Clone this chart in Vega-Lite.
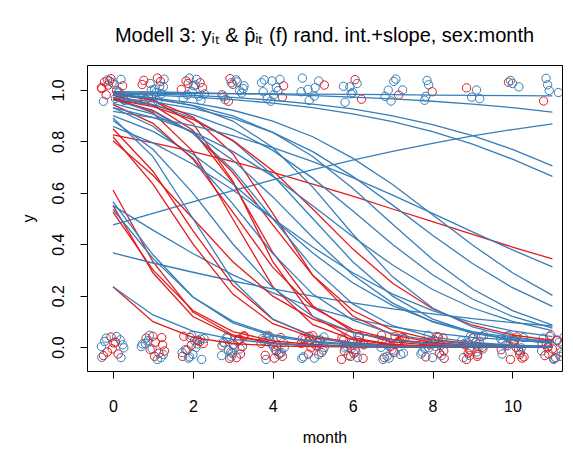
{
"$schema": "https://vega.github.io/schema/vega-lite/v6.json",
"width": 475, "height": 306,
"autosize": {"type": "none"},
"padding": {"left": 87, "top": 65, "right": 11, "bottom": 81},
"background": "white",
"config": {"view": {"stroke": "black", "strokeWidth": 1}, "font": "Liberation Sans"},
"title": {"text": "Modell 3: yᵢₜ & p̂ᵢₜ (f) rand. int.+slope, sex:month", "fontSize": 20, "fontWeight": "normal", "font": "Liberation Sans", "color": "black", "offset": 19, "anchor": "middle"},
"datasets": {
"pts": [
{"m":-0.21,"y":1.031,"s":"f"},{"m":0.13,"y":0.988,"s":"m"},{"m":-0.05,"y":1.044,"s":"f"},{"m":0.27,"y":0.962,"s":"m"},{"m":-0.28,"y":1.005,"s":"f"},{"m":0.02,"y":1.022,"s":"m"},{"m":0.18,"y":0.973,"s":"f"},{"m":-0.14,"y":1.039,"s":"m"},{"m":0.09,"y":0.997,"s":"f"},{"m":-0.24,"y":0.956,"s":"m"},{"m":0.24,"y":1.016,"s":"f"},{"m":-0.02,"y":1.028,"s":"m"},{"m":-0.17,"y":0.981,"s":"f"},{"m":0.2,"y":1.041,"s":"m"},{"m":0.06,"y":0.967,"s":"m"},{"m":-0.29,"y":1.009,"s":"f"},{"m":0.15,"y":0.993,"s":"m"},{"m":-0.09,"y":1.035,"s":"f"},{"m":0.29,"y":0.959,"s":"m"},{"m":-0.12,"y":1.019,"s":"f"},
{"m":1.04,"y":1.002,"s":"m"},{"m":0.74,"y":0.976,"s":"m"},{"m":1.11,"y":1.046,"s":"f"},{"m":1.22,"y":0.985,"s":"m"},{"m":0.93,"y":1.025,"s":"m"},{"m":0.81,"y":0.964,"s":"f"},{"m":1.26,"y":1.012,"s":"m"},{"m":1.0,"y":0.952,"s":"m"},{"m":0.77,"y":1.037,"s":"f"},{"m":1.08,"y":0.99,"s":"m"},{"m":1.17,"y":1.014,"s":"m"},{"m":0.89,"y":0.971,"s":"f"},{"m":1.28,"y":1.042,"s":"m"},{"m":0.96,"y":0.999,"s":"m"},{"m":0.73,"y":1.021,"s":"f"},{"m":1.12,"y":0.957,"s":"m"},{"m":1.19,"y":1.033,"s":"f"},
{"m":2.02,"y":1.016,"s":"m"},{"m":2.18,"y":1.028,"s":"f"},{"m":1.86,"y":0.981,"s":"m"},{"m":2.09,"y":1.041,"s":"m"},{"m":1.76,"y":0.967,"s":"m"},{"m":2.24,"y":1.009,"s":"f"},{"m":1.98,"y":0.993,"s":"m"},{"m":1.83,"y":1.035,"s":"f"},{"m":2.2,"y":0.959,"s":"m"},{"m":2.06,"y":1.019,"s":"m"},{"m":1.71,"y":1.002,"s":"f"},{"m":2.15,"y":0.976,"s":"m"},{"m":1.91,"y":1.046,"s":"m"},{"m":2.29,"y":0.985,"s":"m"},{"m":1.88,"y":1.025,"s":"f"},
{"m":3.11,"y":1.031,"s":"m"},{"m":3.22,"y":0.988,"s":"m"},{"m":2.93,"y":1.044,"s":"f"},{"m":2.81,"y":0.962,"s":"m"},{"m":3.26,"y":1.005,"s":"m"},{"m":3.0,"y":1.022,"s":"f"},{"m":2.77,"y":0.973,"s":"m"},{"m":3.08,"y":1.039,"s":"m"},{"m":3.17,"y":0.997,"s":"m"},{"m":2.89,"y":0.956,"s":"f"},{"m":3.28,"y":1.016,"s":"m"},{"m":2.96,"y":1.028,"s":"m"},{"m":2.73,"y":0.981,"s":"f"},
{"m":3.79,"y":1.039,"s":"m"},{"m":4.13,"y":0.997,"s":"m"},{"m":3.95,"y":0.956,"s":"m"},{"m":4.27,"y":1.016,"s":"f"},{"m":3.72,"y":1.028,"s":"m"},{"m":4.02,"y":0.981,"s":"m"},{"m":4.18,"y":1.041,"s":"m"},{"m":3.86,"y":0.967,"s":"m"},{"m":4.09,"y":1.009,"s":"m"},{"m":3.76,"y":0.993,"s":"m"},{"m":4.24,"y":0.972,"s":"f"},{"m":3.98,"y":1.035,"s":"m"},
{"m":5.06,"y":1.009,"s":"m"},{"m":4.71,"y":0.993,"s":"m"},{"m":5.15,"y":1.035,"s":"m"},{"m":4.91,"y":0.959,"s":"m"},{"m":5.29,"y":1.019,"s":"f"},{"m":4.88,"y":1.002,"s":"m"},{"m":5.04,"y":0.976,"s":"m"},{"m":4.74,"y":1.046,"s":"m"},
{"m":5.96,"y":0.985,"s":"m"},{"m":6.11,"y":1.025,"s":"m"},{"m":6.22,"y":0.964,"s":"f"},{"m":5.93,"y":1.012,"s":"m"},{"m":5.81,"y":0.952,"s":"m"},{"m":6.06,"y":1.04,"s":"f"},{"m":6.0,"y":0.99,"s":"m"},{"m":5.77,"y":1.014,"s":"m"},
{"m":7.08,"y":1.042,"s":"m"},{"m":6.89,"y":0.999,"s":"m"},{"m":7.25,"y":1.0,"s":"m"},{"m":7.15,"y":0.98,"s":"f"},{"m":6.96,"y":0.957,"s":"m"},{"m":7.03,"y":1.033,"s":"m"},{"m":6.81,"y":0.975,"s":"m"},
{"m":7.86,"y":1.037,"s":"m"},{"m":7.9,"y":1.02,"s":"m"},{"m":7.99,"y":0.993,"s":"f"},{"m":7.83,"y":0.975,"s":"m"},{"m":7.8,"y":0.96,"s":"m"},
{"m":8.85,"y":1.008,"s":"f"},{"m":9.1,"y":1.0,"s":"m"},{"m":8.98,"y":0.972,"s":"m"},{"m":9.18,"y":0.966,"s":"m"},
{"m":9.9,"y":1.03,"s":"f"},{"m":9.95,"y":1.037,"s":"m"},{"m":10.0,"y":1.025,"s":"m"},{"m":10.16,"y":1.012,"s":"m"},
{"m":10.84,"y":1.045,"s":"m"},{"m":10.88,"y":1.02,"s":"m"},{"m":10.78,"y":0.957,"s":"f"},{"m":10.92,"y":0.998,"s":"m"},{"m":11.15,"y":0.99,"s":"m"},
{"m":-0.21,"y":0.022,"s":"m"},{"m":0.13,"y":-0.027,"s":"f"},{"m":-0.05,"y":0.039,"s":"f"},{"m":0.27,"y":-0.003,"s":"m"},{"m":-0.28,"y":-0.04,"s":"m"},{"m":0.02,"y":0.016,"s":"f"},{"m":0.18,"y":0.028,"s":"m"},{"m":-0.14,"y":-0.019,"s":"f"},{"m":0.09,"y":0.041,"s":"m"},{"m":-0.24,"y":-0.033,"s":"f"},{"m":0.24,"y":0.009,"s":"m"},{"m":-0.02,"y":-0.007,"s":"f"},{"m":-0.17,"y":0.035,"s":"m"},{"m":0.2,"y":-0.041,"s":"m"},{"m":0.06,"y":0.019,"s":"f"},{"m":-0.29,"y":0.002,"s":"m"},
{"m":1.24,"y":0.009,"s":"f"},{"m":0.98,"y":-0.007,"s":"m"},{"m":0.83,"y":0.035,"s":"f"},{"m":1.2,"y":-0.041,"s":"m"},{"m":1.06,"y":0.019,"s":"f"},{"m":0.71,"y":0.002,"s":"m"},{"m":1.15,"y":-0.024,"s":"f"},{"m":0.91,"y":0.046,"s":"m"},{"m":1.29,"y":-0.015,"s":"f"},{"m":0.88,"y":0.025,"s":"m"},{"m":1.04,"y":-0.036,"s":"f"},{"m":0.74,"y":0.012,"s":"m"},{"m":1.11,"y":-0.048,"s":"m"},{"m":1.22,"y":0.037,"s":"f"},{"m":0.93,"y":-0.01,"s":"f"},{"m":0.81,"y":0.014,"s":"m"},{"m":1.26,"y":-0.029,"s":"m"},{"m":1.0,"y":0.042,"s":"f"},
{"m":2.04,"y":0.025,"s":"m"},{"m":1.74,"y":-0.036,"s":"f"},{"m":2.11,"y":0.012,"s":"m"},{"m":2.22,"y":-0.048,"s":"m"},{"m":1.93,"y":0.037,"s":"f"},{"m":1.81,"y":-0.01,"s":"m"},{"m":2.26,"y":0.014,"s":"f"},{"m":2.0,"y":-0.029,"s":"m"},{"m":1.77,"y":0.042,"s":"f"},{"m":2.08,"y":-0.001,"s":"m"},{"m":2.17,"y":0.021,"s":"f"},{"m":1.89,"y":-0.043,"s":"m"},{"m":2.28,"y":0.033,"s":"m"},{"m":1.96,"y":0.007,"s":"f"},{"m":1.73,"y":-0.021,"s":"m"},{"m":2.12,"y":0.026,"s":"f"},{"m":2.19,"y":0.031,"s":"m"},{"m":1.85,"y":-0.012,"s":"f"},{"m":1.97,"y":0.044,"s":"m"},{"m":1.92,"y":-0.038,"s":"m"},
{"m":3.17,"y":0.031,"s":"f"},{"m":2.89,"y":-0.012,"s":"m"},{"m":3.28,"y":0.044,"s":"f"},{"m":2.96,"y":-0.038,"s":"m"},{"m":2.73,"y":0.005,"s":"f"},{"m":3.12,"y":0.022,"s":"m"},{"m":3.19,"y":-0.027,"s":"f"},{"m":2.85,"y":0.039,"s":"m"},{"m":3.03,"y":-0.003,"s":"m"},{"m":2.92,"y":-0.044,"s":"f"},{"m":2.79,"y":0.016,"s":"m"},{"m":3.13,"y":0.028,"s":"f"},{"m":2.95,"y":-0.019,"s":"m"},{"m":3.27,"y":0.041,"s":"f"},{"m":2.72,"y":-0.033,"s":"m"},{"m":3.02,"y":0.009,"s":"f"},{"m":3.18,"y":-0.007,"s":"m"},{"m":2.86,"y":0.035,"s":"m"},{"m":3.09,"y":-0.041,"s":"f"},{"m":2.76,"y":0.019,"s":"m"},{"m":3.24,"y":0.002,"s":"f"},{"m":2.98,"y":-0.024,"s":"m"},
{"m":4.02,"y":0.002,"s":"m"},{"m":4.18,"y":-0.024,"s":"f"},{"m":3.86,"y":0.046,"s":"m"},{"m":4.09,"y":-0.015,"s":"f"},{"m":3.76,"y":0.025,"s":"m"},{"m":4.24,"y":-0.036,"s":"f"},{"m":3.98,"y":0.012,"s":"m"},{"m":3.83,"y":-0.048,"s":"m"},{"m":4.2,"y":0.037,"s":"f"},{"m":4.06,"y":-0.01,"s":"m"},{"m":3.71,"y":0.014,"s":"f"},{"m":4.15,"y":-0.029,"s":"m"},{"m":3.91,"y":0.042,"s":"f"},{"m":4.29,"y":-0.001,"s":"m"},{"m":3.88,"y":0.021,"s":"m"},{"m":4.04,"y":-0.043,"s":"f"},{"m":3.74,"y":0.033,"s":"m"},{"m":4.11,"y":0.007,"s":"f"},{"m":4.22,"y":-0.021,"s":"m"},{"m":3.93,"y":0.026,"s":"m"},{"m":3.81,"y":-0.032,"s":"f"},{"m":4.26,"y":0.018,"s":"m"},
{"m":4.71,"y":0.014,"s":"f"},{"m":5.15,"y":-0.029,"s":"m"},{"m":4.91,"y":0.042,"s":"f"},{"m":5.29,"y":-0.001,"s":"m"},{"m":4.88,"y":0.021,"s":"f"},{"m":5.04,"y":-0.043,"s":"m"},{"m":4.74,"y":0.033,"s":"f"},{"m":5.11,"y":0.007,"s":"m"},{"m":5.22,"y":-0.021,"s":"f"},{"m":4.93,"y":0.026,"s":"m"},{"m":4.81,"y":0.031,"s":"f"},{"m":5.26,"y":-0.012,"s":"m"},{"m":5.0,"y":0.044,"s":"f"},{"m":4.77,"y":-0.038,"s":"m"},{"m":5.08,"y":0.005,"s":"f"},{"m":5.17,"y":0.022,"s":"m"},{"m":4.89,"y":-0.027,"s":"f"},{"m":5.28,"y":0.039,"s":"m"},{"m":4.96,"y":-0.003,"s":"f"},{"m":4.73,"y":-0.044,"s":"m"},{"m":5.12,"y":0.016,"s":"f"},{"m":5.19,"y":0.028,"s":"m"},
{"m":5.81,"y":-0.003,"s":"m"},{"m":6.26,"y":-0.044,"s":"f"},{"m":6.0,"y":0.016,"s":"m"},{"m":5.77,"y":0.028,"s":"f"},{"m":6.08,"y":-0.019,"s":"m"},{"m":6.17,"y":0.041,"s":"f"},{"m":5.89,"y":-0.033,"s":"m"},{"m":6.28,"y":0.009,"s":"f"},{"m":5.96,"y":-0.007,"s":"m"},{"m":5.73,"y":0.035,"s":"f"},{"m":6.12,"y":-0.041,"s":"m"},{"m":6.19,"y":0.019,"s":"f"},{"m":5.85,"y":0.002,"s":"m"},{"m":6.03,"y":-0.024,"s":"f"},{"m":5.92,"y":0.046,"s":"m"},{"m":5.79,"y":-0.015,"s":"f"},{"m":6.13,"y":0.025,"s":"m"},{"m":5.95,"y":-0.036,"s":"f"},{"m":6.27,"y":0.012,"s":"m"},{"m":5.72,"y":-0.048,"s":"f"},{"m":6.15,"y":0.037,"s":"m"},{"m":6.06,"y":-0.01,"s":"f"},
{"m":6.79,"y":-0.041,"s":"f"},{"m":7.13,"y":0.019,"s":"m"},{"m":6.95,"y":0.002,"s":"f"},{"m":7.27,"y":-0.024,"s":"m"},{"m":6.72,"y":0.046,"s":"f"},{"m":7.02,"y":-0.015,"s":"m"},{"m":7.18,"y":0.025,"s":"f"},{"m":6.86,"y":-0.036,"s":"m"},{"m":7.09,"y":0.012,"s":"f"},{"m":6.76,"y":-0.048,"s":"m"},{"m":7.24,"y":0.037,"s":"f"},{"m":6.98,"y":-0.01,"s":"m"},{"m":6.83,"y":0.014,"s":"f"},{"m":7.2,"y":-0.029,"s":"m"},{"m":7.06,"y":0.042,"s":"f"},{"m":6.71,"y":-0.001,"s":"m"},{"m":7.15,"y":0.021,"s":"f"},{"m":6.91,"y":-0.043,"s":"m"},{"m":7.29,"y":0.033,"s":"f"},{"m":6.88,"y":0.007,"s":"m"},{"m":7.04,"y":-0.021,"s":"f"},{"m":6.74,"y":0.026,"s":"m"},
{"m":7.83,"y":-0.038,"s":"f"},{"m":8.2,"y":0.005,"s":"m"},{"m":8.06,"y":0.022,"s":"f"},{"m":7.71,"y":-0.027,"s":"m"},{"m":8.15,"y":0.039,"s":"f"},{"m":7.91,"y":-0.003,"s":"m"},{"m":8.29,"y":-0.044,"s":"f"},{"m":7.88,"y":0.016,"s":"m"},{"m":8.04,"y":0.028,"s":"f"},{"m":7.74,"y":-0.019,"s":"m"},{"m":8.11,"y":0.041,"s":"f"},{"m":8.22,"y":-0.033,"s":"m"},{"m":7.93,"y":0.009,"s":"f"},{"m":7.81,"y":-0.007,"s":"m"},{"m":8.26,"y":0.035,"s":"f"},{"m":8.0,"y":-0.041,"s":"m"},{"m":7.77,"y":0.019,"s":"f"},{"m":8.08,"y":0.002,"s":"m"},{"m":8.17,"y":-0.024,"s":"f"},{"m":7.89,"y":0.046,"s":"m"},{"m":8.28,"y":-0.015,"s":"f"},{"m":7.96,"y":0.025,"s":"m"},
{"m":9.11,"y":-0.019,"s":"m"},{"m":9.22,"y":0.041,"s":"f"},{"m":8.93,"y":-0.033,"s":"m"},{"m":8.81,"y":0.009,"s":"f"},{"m":9.26,"y":-0.007,"s":"m"},{"m":9.0,"y":0.035,"s":"f"},{"m":8.77,"y":-0.041,"s":"m"},{"m":9.08,"y":0.019,"s":"f"},{"m":9.17,"y":0.002,"s":"m"},{"m":8.89,"y":-0.024,"s":"f"},{"m":9.28,"y":0.046,"s":"m"},{"m":8.96,"y":-0.015,"s":"f"},{"m":8.73,"y":0.025,"s":"m"},{"m":9.12,"y":-0.036,"s":"f"},{"m":9.19,"y":0.012,"s":"m"},{"m":8.85,"y":-0.048,"s":"f"},{"m":9.03,"y":0.037,"s":"m"},{"m":8.92,"y":-0.01,"s":"f"},{"m":8.79,"y":0.014,"s":"m"},{"m":9.13,"y":-0.029,"s":"f"},{"m":8.95,"y":0.042,"s":"m"},{"m":9.24,"y":-0.001,"s":"f"},
{"m":9.95,"y":-0.048,"s":"f"},{"m":10.27,"y":0.037,"s":"m"},{"m":9.72,"y":-0.01,"s":"f"},{"m":10.02,"y":0.014,"s":"m"},{"m":10.18,"y":-0.029,"s":"f"},{"m":9.86,"y":0.042,"s":"m"},{"m":10.09,"y":-0.001,"s":"f"},{"m":9.76,"y":0.021,"s":"m"},{"m":10.24,"y":-0.043,"s":"f"},{"m":9.98,"y":0.033,"s":"m"},{"m":9.83,"y":0.007,"s":"f"},{"m":10.2,"y":-0.021,"s":"m"},{"m":10.06,"y":0.026,"s":"f"},{"m":9.71,"y":0.031,"s":"m"},{"m":10.15,"y":-0.012,"s":"f"},{"m":9.91,"y":0.044,"s":"m"},{"m":10.29,"y":-0.038,"s":"f"},{"m":9.88,"y":0.005,"s":"m"},{"m":10.04,"y":0.022,"s":"f"},{"m":9.74,"y":-0.027,"s":"m"},{"m":10.11,"y":0.039,"s":"f"},{"m":10.22,"y":-0.003,"s":"m"},
{"m":10.91,"y":-0.027,"s":"f"},{"m":11.29,"y":0.039,"s":"m"},{"m":10.88,"y":-0.003,"s":"f"},{"m":11.04,"y":-0.044,"s":"m"},{"m":10.74,"y":0.016,"s":"f"},{"m":11.11,"y":0.028,"s":"m"},{"m":11.22,"y":-0.019,"s":"f"},{"m":10.93,"y":0.041,"s":"m"},{"m":10.81,"y":-0.033,"s":"f"},{"m":11.26,"y":0.009,"s":"m"},{"m":11.0,"y":-0.007,"s":"f"},{"m":10.77,"y":0.035,"s":"m"},{"m":11.08,"y":-0.041,"s":"f"},{"m":11.17,"y":0.019,"s":"m"},{"m":10.89,"y":0.002,"s":"f"},{"m":11.28,"y":-0.024,"s":"m"},{"m":10.96,"y":0.046,"s":"f"},{"m":10.73,"y":-0.015,"s":"m"},{"m":11.12,"y":0.025,"s":"f"},{"m":11.19,"y":-0.036,"s":"m"},{"m":10.85,"y":0.012,"s":"f"},{"m":11.03,"y":-0.048,"s":"m"}
],
"crv": [
{"id":"B1","s":"m","t":0,"p":0.993},{"id":"B1","s":"m","t":1,"p":0.992},{"id":"B1","s":"m","t":2,"p":0.989},{"id":"B1","s":"m","t":3,"p":0.986},{"id":"B1","s":"m","t":4,"p":0.983},{"id":"B1","s":"m","t":5,"p":0.978},{"id":"B1","s":"m","t":6,"p":0.972},{"id":"B1","s":"m","t":7,"p":0.965},{"id":"B1","s":"m","t":8,"p":0.956},{"id":"B1","s":"m","t":9,"p":0.945},{"id":"B1","s":"m","t":10,"p":0.931},{"id":"B1","s":"m","t":11,"p":0.914},
{"id":"B2","s":"m","t":0,"p":0.988},{"id":"B2","s":"m","t":1,"p":0.987},{"id":"B2","s":"m","t":2,"p":0.986},{"id":"B2","s":"m","t":3,"p":0.986},{"id":"B2","s":"m","t":4,"p":0.985},{"id":"B2","s":"m","t":5,"p":0.984},{"id":"B2","s":"m","t":6,"p":0.983},{"id":"B2","s":"m","t":7,"p":0.982},{"id":"B2","s":"m","t":8,"p":0.98},{"id":"B2","s":"m","t":9,"p":0.979},{"id":"B2","s":"m","t":10,"p":0.978},{"id":"B2","s":"m","t":11,"p":0.977},
{"id":"R1","s":"f","t":0,"p":0.825},{"id":"R1","s":"f","t":1,"p":0.794},{"id":"R1","s":"f","t":2,"p":0.76},{"id":"R1","s":"f","t":3,"p":0.721},{"id":"R1","s":"f","t":4,"p":0.679},{"id":"R1","s":"f","t":5,"p":0.634},{"id":"R1","s":"f","t":6,"p":0.587},{"id":"R1","s":"f","t":7,"p":0.537},{"id":"R1","s":"f","t":8,"p":0.488},{"id":"R1","s":"f","t":9,"p":0.438},{"id":"R1","s":"f","t":10,"p":0.389},{"id":"R1","s":"f","t":11,"p":0.343},
{"id":"B3","s":"m","t":0,"p":0.989},{"id":"B3","s":"m","t":1,"p":0.985},{"id":"B3","s":"m","t":2,"p":0.979},{"id":"B3","s":"m","t":3,"p":0.971},{"id":"B3","s":"m","t":4,"p":0.96},{"id":"B3","s":"m","t":5,"p":0.945},{"id":"B3","s":"m","t":6,"p":0.926},{"id":"B3","s":"m","t":7,"p":0.899},{"id":"B3","s":"m","t":8,"p":0.865},{"id":"B3","s":"m","t":9,"p":0.822},{"id":"B3","s":"m","t":10,"p":0.769},{"id":"B3","s":"m","t":11,"p":0.705},
{"id":"R2","s":"f","t":0,"p":0.611},{"id":"R2","s":"f","t":1,"p":0.332},{"id":"R2","s":"f","t":2,"p":0.136},{"id":"R2","s":"f","t":3,"p":0.047},{"id":"R2","s":"f","t":4,"p":0.016},{"id":"R2","s":"f","t":5,"p":0.005},{"id":"R2","s":"f","t":6,"p":0.002},{"id":"R2","s":"f","t":7,"p":0.0005},{"id":"R2","s":"f","t":8,"p":0.0002},{"id":"R2","s":"f","t":9,"p":0.0001},{"id":"R2","s":"f","t":10,"p":0.0},{"id":"R2","s":"f","t":11,"p":0.0},
{"id":"B4","s":"m","t":0,"p":0.985},{"id":"B4","s":"m","t":1,"p":0.98},{"id":"B4","s":"m","t":2,"p":0.972},{"id":"B4","s":"m","t":3,"p":0.962},{"id":"B4","s":"m","t":4,"p":0.949},{"id":"B4","s":"m","t":5,"p":0.931},{"id":"B4","s":"m","t":6,"p":0.907},{"id":"B4","s":"m","t":7,"p":0.877},{"id":"B4","s":"m","t":8,"p":0.838},{"id":"B4","s":"m","t":9,"p":0.789},{"id":"B4","s":"m","t":10,"p":0.731},{"id":"B4","s":"m","t":11,"p":0.664},
{"id":"R3","s":"f","t":0,"p":0.55},{"id":"R3","s":"f","t":1,"p":0.289},{"id":"R3","s":"f","t":2,"p":0.119},{"id":"R3","s":"f","t":3,"p":0.043},{"id":"R3","s":"f","t":4,"p":0.015},{"id":"R3","s":"f","t":5,"p":0.005},{"id":"R3","s":"f","t":6,"p":0.002},{"id":"R3","s":"f","t":7,"p":0.0005},{"id":"R3","s":"f","t":8,"p":0.0002},{"id":"R3","s":"f","t":9,"p":0.0001},{"id":"R3","s":"f","t":10,"p":0.0},{"id":"R3","s":"f","t":11,"p":0.0},
{"id":"B5","s":"m","t":0,"p":0.475},{"id":"B5","s":"m","t":1,"p":0.52},{"id":"B5","s":"m","t":2,"p":0.565},{"id":"B5","s":"m","t":3,"p":0.608},{"id":"B5","s":"m","t":4,"p":0.65},{"id":"B5","s":"m","t":5,"p":0.69},{"id":"B5","s":"m","t":6,"p":0.727},{"id":"B5","s":"m","t":7,"p":0.761},{"id":"B5","s":"m","t":8,"p":0.792},{"id":"B5","s":"m","t":9,"p":0.821},{"id":"B5","s":"m","t":10,"p":0.846},{"id":"B5","s":"m","t":11,"p":0.868},
{"id":"R4","s":"f","t":0,"p":0.525},{"id":"R4","s":"f","t":1,"p":0.3},{"id":"R4","s":"f","t":2,"p":0.142},{"id":"R4","s":"f","t":3,"p":0.06},{"id":"R4","s":"f","t":4,"p":0.024},{"id":"R4","s":"f","t":5,"p":0.01},{"id":"R4","s":"f","t":6,"p":0.004},{"id":"R4","s":"f","t":7,"p":0.0014},{"id":"R4","s":"f","t":8,"p":0.0005},{"id":"R4","s":"f","t":9,"p":0.0002},{"id":"R4","s":"f","t":10,"p":0.0001},{"id":"R4","s":"f","t":11,"p":0.0},
{"id":"B6","s":"m","t":0,"p":0.98},{"id":"B6","s":"m","t":1,"p":0.968},{"id":"B6","s":"m","t":2,"p":0.95},{"id":"B6","s":"m","t":3,"p":0.921},{"id":"B6","s":"m","t":4,"p":0.879},{"id":"B6","s":"m","t":5,"p":0.818},{"id":"B6","s":"m","t":6,"p":0.735},{"id":"B6","s":"m","t":7,"p":0.632},{"id":"B6","s":"m","t":8,"p":0.515},{"id":"B6","s":"m","t":9,"p":0.397},{"id":"B6","s":"m","t":10,"p":0.289},{"id":"B6","s":"m","t":11,"p":0.201},
{"id":"R5","s":"f","t":0,"p":0.235},{"id":"R5","s":"f","t":1,"p":0.099},{"id":"R5","s":"f","t":2,"p":0.038},{"id":"R5","s":"f","t":3,"p":0.014},{"id":"R5","s":"f","t":4,"p":0.005},{"id":"R5","s":"f","t":5,"p":0.002},{"id":"R5","s":"f","t":6,"p":0.0006},{"id":"R5","s":"f","t":7,"p":0.0002},{"id":"R5","s":"f","t":8,"p":0.0001},{"id":"R5","s":"f","t":9,"p":0.0},{"id":"R5","s":"f","t":10,"p":0.0},{"id":"R5","s":"f","t":11,"p":0.0},
{"id":"B7","s":"m","t":0,"p":0.964},{"id":"B7","s":"m","t":1,"p":0.941},{"id":"B7","s":"m","t":2,"p":0.904},{"id":"B7","s":"m","t":3,"p":0.847},{"id":"B7","s":"m","t":4,"p":0.765},{"id":"B7","s":"m","t":5,"p":0.657},{"id":"B7","s":"m","t":6,"p":0.53},{"id":"B7","s":"m","t":7,"p":0.399},{"id":"B7","s":"m","t":8,"p":0.281},{"id":"B7","s":"m","t":9,"p":0.187},{"id":"B7","s":"m","t":10,"p":0.119},{"id":"B7","s":"m","t":11,"p":0.074},
{"id":"R6","s":"f","t":0,"p":0.98},{"id":"R6","s":"f","t":1,"p":0.942},{"id":"R6","s":"f","t":2,"p":0.843},{"id":"R6","s":"f","t":3,"p":0.639},{"id":"R6","s":"f","t":4,"p":0.368},{"id":"R6","s":"f","t":5,"p":0.161},{"id":"R6","s":"f","t":6,"p":0.06},{"id":"R6","s":"f","t":7,"p":0.02},{"id":"R6","s":"f","t":8,"p":0.007},{"id":"R6","s":"f","t":9,"p":0.002},{"id":"R6","s":"f","t":10,"p":0.0007},{"id":"R6","s":"f","t":11,"p":0.0002},
{"id":"B8","s":"m","t":0,"p":0.55},{"id":"B8","s":"m","t":1,"p":0.455},{"id":"B8","s":"m","t":2,"p":0.364},{"id":"B8","s":"m","t":3,"p":0.281},{"id":"B8","s":"m","t":4,"p":0.211},{"id":"B8","s":"m","t":5,"p":0.154},{"id":"B8","s":"m","t":6,"p":0.111},{"id":"B8","s":"m","t":7,"p":0.079},{"id":"B8","s":"m","t":8,"p":0.055},{"id":"B8","s":"m","t":9,"p":0.038},{"id":"B8","s":"m","t":10,"p":0.027},{"id":"B8","s":"m","t":11,"p":0.018},
{"id":"R7","s":"f","t":0,"p":0.971},{"id":"R7","s":"f","t":1,"p":0.911},{"id":"R7","s":"f","t":2,"p":0.761},{"id":"R7","s":"f","t":3,"p":0.498},{"id":"R7","s":"f","t":4,"p":0.235},{"id":"R7","s":"f","t":5,"p":0.087},{"id":"R7","s":"f","t":6,"p":0.029},{"id":"R7","s":"f","t":7,"p":0.009},{"id":"R7","s":"f","t":8,"p":0.003},{"id":"R7","s":"f","t":9,"p":0.001},{"id":"R7","s":"f","t":10,"p":0.0003},{"id":"R7","s":"f","t":11,"p":0.0001},
{"id":"B9","s":"m","t":0,"p":0.366},{"id":"B9","s":"m","t":1,"p":0.327},{"id":"B9","s":"m","t":2,"p":0.291},{"id":"B9","s":"m","t":3,"p":0.257},{"id":"B9","s":"m","t":4,"p":0.226},{"id":"B9","s":"m","t":5,"p":0.198},{"id":"B9","s":"m","t":6,"p":0.172},{"id":"B9","s":"m","t":7,"p":0.149},{"id":"B9","s":"m","t":8,"p":0.129},{"id":"B9","s":"m","t":9,"p":0.111},{"id":"B9","s":"m","t":10,"p":0.095},{"id":"B9","s":"m","t":11,"p":0.082},
{"id":"R8","s":"f","t":0,"p":0.964},{"id":"R8","s":"f","t":1,"p":0.921},{"id":"R8","s":"f","t":2,"p":0.832},{"id":"R8","s":"f","t":3,"p":0.679},{"id":"R8","s":"f","t":4,"p":0.475},{"id":"R8","s":"f","t":5,"p":0.279},{"id":"R8","s":"f","t":6,"p":0.142},{"id":"R8","s":"f","t":7,"p":0.066},{"id":"R8","s":"f","t":8,"p":0.029},{"id":"R8","s":"f","t":9,"p":0.013},{"id":"R8","s":"f","t":10,"p":0.006},{"id":"R8","s":"f","t":11,"p":0.002},
{"id":"B10","s":"m","t":0,"p":0.565},{"id":"B10","s":"m","t":1,"p":0.359},{"id":"B10","s":"m","t":2,"p":0.195},{"id":"B10","s":"m","t":3,"p":0.094},{"id":"B10","s":"m","t":4,"p":0.043},{"id":"B10","s":"m","t":5,"p":0.019},{"id":"B10","s":"m","t":6,"p":0.008},{"id":"B10","s":"m","t":7,"p":0.004},{"id":"B10","s":"m","t":8,"p":0.002},{"id":"B10","s":"m","t":9,"p":0.001},{"id":"B10","s":"m","t":10,"p":0.0003},{"id":"B10","s":"m","t":11,"p":0.0001},
{"id":"R9","s":"f","t":0,"p":0.849},{"id":"R9","s":"f","t":1,"p":0.684},{"id":"R9","s":"f","t":2,"p":0.453},{"id":"R9","s":"f","t":3,"p":0.241},{"id":"R9","s":"f","t":4,"p":0.108},{"id":"R9","s":"f","t":5,"p":0.044},{"id":"R9","s":"f","t":6,"p":0.017},{"id":"R9","s":"f","t":7,"p":0.007},{"id":"R9","s":"f","t":8,"p":0.003},{"id":"R9","s":"f","t":9,"p":0.001},{"id":"R9","s":"f","t":10,"p":0.0004},{"id":"R9","s":"f","t":11,"p":0.0001},
{"id":"B11","s":"m","t":0,"p":0.535},{"id":"B11","s":"m","t":1,"p":0.345},{"id":"B11","s":"m","t":2,"p":0.195},{"id":"B11","s":"m","t":3,"p":0.1},{"id":"B11","s":"m","t":4,"p":0.048},{"id":"B11","s":"m","t":5,"p":0.023},{"id":"B11","s":"m","t":6,"p":0.011},{"id":"B11","s":"m","t":7,"p":0.005},{"id":"B11","s":"m","t":8,"p":0.002},{"id":"B11","s":"m","t":9,"p":0.001},{"id":"B11","s":"m","t":10,"p":0.0005},{"id":"B11","s":"m","t":11,"p":0.0002},
{"id":"R10","s":"f","t":0,"p":0.818},{"id":"R10","s":"f","t":1,"p":0.634},{"id":"R10","s":"f","t":2,"p":0.401},{"id":"R10","s":"f","t":3,"p":0.206},{"id":"R10","s":"f","t":4,"p":0.091},{"id":"R10","s":"f","t":5,"p":0.037},{"id":"R10","s":"f","t":6,"p":0.015},{"id":"R10","s":"f","t":7,"p":0.006},{"id":"R10","s":"f","t":8,"p":0.002},{"id":"R10","s":"f","t":9,"p":0.0008},{"id":"R10","s":"f","t":10,"p":0.0003},{"id":"R10","s":"f","t":11,"p":0.0001},
{"id":"B12","s":"m","t":0,"p":0.235},{"id":"B12","s":"m","t":1,"p":0.125},{"id":"B12","s":"m","t":2,"p":0.062},{"id":"B12","s":"m","t":3,"p":0.03},{"id":"B12","s":"m","t":4,"p":0.014},{"id":"B12","s":"m","t":5,"p":0.007},{"id":"B12","s":"m","t":6,"p":0.003},{"id":"B12","s":"m","t":7,"p":0.001},{"id":"B12","s":"m","t":8,"p":0.0006},{"id":"B12","s":"m","t":9,"p":0.0003},{"id":"B12","s":"m","t":10,"p":0.0001},{"id":"B12","s":"m","t":11,"p":0.0001},
{"id":"R11","s":"f","t":0,"p":0.802},{"id":"R11","s":"f","t":1,"p":0.668},{"id":"R11","s":"f","t":2,"p":0.5},{"id":"R11","s":"f","t":3,"p":0.332},{"id":"R11","s":"f","t":4,"p":0.198},{"id":"R11","s":"f","t":5,"p":0.109},{"id":"R11","s":"f","t":6,"p":0.057},{"id":"R11","s":"f","t":7,"p":0.029},{"id":"R11","s":"f","t":8,"p":0.015},{"id":"R11","s":"f","t":9,"p":0.007},{"id":"R11","s":"f","t":10,"p":0.004},{"id":"R11","s":"f","t":11,"p":0.002},
{"id":"B13","s":"m","t":0,"p":0.971},{"id":"B13","s":"m","t":1,"p":0.943},{"id":"B13","s":"m","t":2,"p":0.891},{"id":"B13","s":"m","t":3,"p":0.802},{"id":"B13","s":"m","t":4,"p":0.668},{"id":"B13","s":"m","t":5,"p":0.5},{"id":"B13","s":"m","t":6,"p":0.332},{"id":"B13","s":"m","t":7,"p":0.198},{"id":"B13","s":"m","t":8,"p":0.109},{"id":"B13","s":"m","t":9,"p":0.057},{"id":"B13","s":"m","t":10,"p":0.029},{"id":"B13","s":"m","t":11,"p":0.015},
{"id":"R12","s":"f","t":0,"p":0.985},{"id":"R12","s":"f","t":1,"p":0.96},{"id":"R12","s":"f","t":2,"p":0.895},{"id":"R12","s":"f","t":3,"p":0.752},{"id":"R12","s":"f","t":4,"p":0.52},{"id":"R12","s":"f","t":5,"p":0.279},{"id":"R12","s":"f","t":6,"p":0.121},{"id":"R12","s":"f","t":7,"p":0.047},{"id":"R12","s":"f","t":8,"p":0.017},{"id":"R12","s":"f","t":9,"p":0.006},{"id":"R12","s":"f","t":10,"p":0.002},{"id":"R12","s":"f","t":11,"p":0.0008},
{"id":"B14","s":"m","t":0,"p":0.961},{"id":"B14","s":"m","t":1,"p":0.917},{"id":"B14","s":"m","t":2,"p":0.832},{"id":"B14","s":"m","t":3,"p":0.69},{"id":"B14","s":"m","t":4,"p":0.5},{"id":"B14","s":"m","t":5,"p":0.31},{"id":"B14","s":"m","t":6,"p":0.168},{"id":"B14","s":"m","t":7,"p":0.083},{"id":"B14","s":"m","t":8,"p":0.039},{"id":"B14","s":"m","t":9,"p":0.018},{"id":"B14","s":"m","t":10,"p":0.008},{"id":"B14","s":"m","t":11,"p":0.004},
{"id":"R13","s":"f","t":0,"p":0.964},{"id":"R13","s":"f","t":1,"p":0.935},{"id":"R13","s":"f","t":2,"p":0.885},{"id":"R13","s":"f","t":3,"p":0.804},{"id":"R13","s":"f","t":4,"p":0.686},{"id":"R13","s":"f","t":5,"p":0.537},{"id":"R13","s":"f","t":6,"p":0.382},{"id":"R13","s":"f","t":7,"p":0.248},{"id":"R13","s":"f","t":8,"p":0.149},{"id":"R13","s":"f","t":9,"p":0.085},{"id":"R13","s":"f","t":10,"p":0.047},{"id":"R13","s":"f","t":11,"p":0.026},
{"id":"B15","s":"m","t":0,"p":0.931},{"id":"B15","s":"m","t":1,"p":0.859},{"id":"B15","s":"m","t":2,"p":0.735},{"id":"B15","s":"m","t":3,"p":0.557},{"id":"B15","s":"m","t":4,"p":0.364},{"id":"B15","s":"m","t":5,"p":0.206},{"id":"B15","s":"m","t":6,"p":0.105},{"id":"B15","s":"m","t":7,"p":0.051},{"id":"B15","s":"m","t":8,"p":0.024},{"id":"B15","s":"m","t":9,"p":0.011},{"id":"B15","s":"m","t":10,"p":0.005},{"id":"B15","s":"m","t":11,"p":0.002},
{"id":"R14","s":"f","t":0,"p":0.989},{"id":"R14","s":"f","t":1,"p":0.961},{"id":"R14","s":"f","t":2,"p":0.87},{"id":"R14","s":"f","t":3,"p":0.646},{"id":"R14","s":"f","t":4,"p":0.332},{"id":"R14","s":"f","t":5,"p":0.119},{"id":"R14","s":"f","t":6,"p":0.036},{"id":"R14","s":"f","t":7,"p":0.01},{"id":"R14","s":"f","t":8,"p":0.003},{"id":"R14","s":"f","t":9,"p":0.0007},{"id":"R14","s":"f","t":10,"p":0.0002},{"id":"R14","s":"f","t":11,"p":0.0001},
{"id":"B16","s":"m","t":0,"p":0.9},{"id":"B16","s":"m","t":1,"p":0.839},{"id":"B16","s":"m","t":2,"p":0.75},{"id":"B16","s":"m","t":3,"p":0.634},{"id":"B16","s":"m","t":4,"p":0.5},{"id":"B16","s":"m","t":5,"p":0.366},{"id":"B16","s":"m","t":6,"p":0.25},{"id":"B16","s":"m","t":7,"p":0.161},{"id":"B16","s":"m","t":8,"p":0.1},{"id":"B16","s":"m","t":9,"p":0.06},{"id":"B16","s":"m","t":10,"p":0.036},{"id":"B16","s":"m","t":11,"p":0.021},
{"id":"R15","s":"f","t":0,"p":0.943},{"id":"R15","s":"f","t":1,"p":0.87},{"id":"R15","s":"f","t":2,"p":0.731},{"id":"R15","s":"f","t":3,"p":0.525},{"id":"R15","s":"f","t":4,"p":0.31},{"id":"R15","s":"f","t":5,"p":0.154},{"id":"R15","s":"f","t":6,"p":0.069},{"id":"R15","s":"f","t":7,"p":0.029},{"id":"R15","s":"f","t":8,"p":0.012},{"id":"R15","s":"f","t":9,"p":0.005},{"id":"R15","s":"f","t":10,"p":0.002},{"id":"R15","s":"f","t":11,"p":0.0008},
{"id":"B17","s":"m","t":0,"p":0.881},{"id":"B17","s":"m","t":1,"p":0.769},{"id":"B17","s":"m","t":2,"p":0.599},{"id":"B17","s":"m","t":3,"p":0.401},{"id":"B17","s":"m","t":4,"p":0.231},{"id":"B17","s":"m","t":5,"p":0.119},{"id":"B17","s":"m","t":6,"p":0.057},{"id":"B17","s":"m","t":7,"p":0.027},{"id":"B17","s":"m","t":8,"p":0.012},{"id":"B17","s":"m","t":9,"p":0.006},{"id":"B17","s":"m","t":10,"p":0.003},{"id":"B17","s":"m","t":11,"p":0.001},
{"id":"B18","s":"m","t":0,"p":0.98},{"id":"B18","s":"m","t":1,"p":0.965},{"id":"B18","s":"m","t":2,"p":0.94},{"id":"B18","s":"m","t":3,"p":0.899},{"id":"B18","s":"m","t":4,"p":0.835},{"id":"B18","s":"m","t":5,"p":0.741},{"id":"B18","s":"m","t":6,"p":0.618},{"id":"B18","s":"m","t":7,"p":0.478},{"id":"B18","s":"m","t":8,"p":0.341},{"id":"B18","s":"m","t":9,"p":0.226},{"id":"B18","s":"m","t":10,"p":0.142},{"id":"B18","s":"m","t":11,"p":0.085},
{"id":"B19","s":"m","t":0,"p":0.985},{"id":"B19","s":"m","t":1,"p":0.97},{"id":"B19","s":"m","t":2,"p":0.938},{"id":"B19","s":"m","t":3,"p":0.879},{"id":"B19","s":"m","t":4,"p":0.776},{"id":"B19","s":"m","t":5,"p":0.622},{"id":"B19","s":"m","t":6,"p":0.44},{"id":"B19","s":"m","t":7,"p":0.273},{"id":"B19","s":"m","t":8,"p":0.152},{"id":"B19","s":"m","t":9,"p":0.079},{"id":"B19","s":"m","t":10,"p":0.039},{"id":"B19","s":"m","t":11,"p":0.019},
{"id":"B20","s":"m","t":0,"p":0.948},{"id":"B20","s":"m","t":1,"p":0.906},{"id":"B20","s":"m","t":2,"p":0.835},{"id":"B20","s":"m","t":3,"p":0.727},{"id":"B20","s":"m","t":4,"p":0.584},{"id":"B20","s":"m","t":5,"p":0.426},{"id":"B20","s":"m","t":6,"p":0.281},{"id":"B20","s":"m","t":7,"p":0.171},{"id":"B20","s":"m","t":8,"p":0.098},{"id":"B20","s":"m","t":9,"p":0.054},{"id":"B20","s":"m","t":10,"p":0.029},{"id":"B20","s":"m","t":11,"p":0.016},
{"id":"B21","s":"m","t":0,"p":0.891},{"id":"B21","s":"m","t":1,"p":0.741},{"id":"B21","s":"m","t":2,"p":0.5},{"id":"B21","s":"m","t":3,"p":0.259},{"id":"B21","s":"m","t":4,"p":0.109},{"id":"B21","s":"m","t":5,"p":0.041},{"id":"B21","s":"m","t":6,"p":0.015},{"id":"B21","s":"m","t":7,"p":0.005},{"id":"B21","s":"m","t":8,"p":0.002},{"id":"B21","s":"m","t":9,"p":0.0006},{"id":"B21","s":"m","t":10,"p":0.0002},{"id":"B21","s":"m","t":11,"p":0.0001},
{"id":"B22","s":"m","t":0,"p":0.971},{"id":"B22","s":"m","t":1,"p":0.954},{"id":"B22","s":"m","t":2,"p":0.928},{"id":"B22","s":"m","t":3,"p":0.89},{"id":"B22","s":"m","t":4,"p":0.835},{"id":"B22","s":"m","t":5,"p":0.76},{"id":"B22","s":"m","t":6,"p":0.664},{"id":"B22","s":"m","t":7,"p":0.552},{"id":"B22","s":"m","t":8,"p":0.435},{"id":"B22","s":"m","t":9,"p":0.325},{"id":"B22","s":"m","t":10,"p":0.231},{"id":"B22","s":"m","t":11,"p":0.158},
{"id":"B23","s":"m","t":0,"p":0.917},{"id":"B23","s":"m","t":1,"p":0.892},{"id":"B23","s":"m","t":2,"p":0.861},{"id":"B23","s":"m","t":3,"p":0.822},{"id":"B23","s":"m","t":4,"p":0.776},{"id":"B23","s":"m","t":5,"p":0.721},{"id":"B23","s":"m","t":6,"p":0.659},{"id":"B23","s":"m","t":7,"p":0.591},{"id":"B23","s":"m","t":8,"p":0.52},{"id":"B23","s":"m","t":9,"p":0.448},{"id":"B23","s":"m","t":10,"p":0.378},{"id":"B23","s":"m","t":11,"p":0.312},
{"id":"B24","s":"m","t":0,"p":0.931},{"id":"B24","s":"m","t":1,"p":0.893},{"id":"B24","s":"m","t":2,"p":0.838},{"id":"B24","s":"m","t":3,"p":0.761},{"id":"B24","s":"m","t":4,"p":0.664},{"id":"B24","s":"m","t":5,"p":0.55},{"id":"B24","s":"m","t":6,"p":0.43},{"id":"B24","s":"m","t":7,"p":0.319},{"id":"B24","s":"m","t":8,"p":0.224},{"id":"B24","s":"m","t":9,"p":0.152},{"id":"B24","s":"m","t":10,"p":0.1},{"id":"B24","s":"m","t":11,"p":0.064},
{"id":"B25","s":"m","t":0,"p":0.858},{"id":"B25","s":"m","t":1,"p":0.794},{"id":"B25","s":"m","t":2,"p":0.711},{"id":"B25","s":"m","t":3,"p":0.611},{"id":"B25","s":"m","t":4,"p":0.5},{"id":"B25","s":"m","t":5,"p":0.389},{"id":"B25","s":"m","t":6,"p":0.289},{"id":"B25","s":"m","t":7,"p":0.206},{"id":"B25","s":"m","t":8,"p":0.142},{"id":"B25","s":"m","t":9,"p":0.095},{"id":"B25","s":"m","t":10,"p":0.063},{"id":"B25","s":"m","t":11,"p":0.041}
]
},
"layer": [
{
"data": {"name": "pts"},
"mark": {"type": "point", "filled": false, "size": 70, "strokeWidth": 1, "opacity": 1, "clip": true},
"encoding": {
"x": {"field": "m", "type": "quantitative", "scale": {"domain": [-0.651, 11.24], "nice": false, "zero": false},
"axis": {"values": [0, 2, 4, 6, 8, 10], "domain": false, "grid": false, "tickColor": "black", "tickSize": 7, "labelFontSize": 16, "labelColor": "black", "labelPadding": 20, "labelFont": "Liberation Sans", "title": "month", "titleFont": "Liberation Sans", "titleFontSize": 16, "titleFontWeight": "normal", "titleColor": "black", "titlePadding": 15}},
"y": {"field": "y", "type": "quantitative", "scale": {"domain": [-0.093, 1.097], "nice": false, "zero": false},
"axis": {"values": [0, 0.2, 0.4, 0.6, 0.8, 1.0], "format": ".1f", "domain": false, "grid": false, "tickColor": "black", "tickSize": 7, "labelAngle": 270, "labelAlign": "center", "labelBaseline": "bottom", "labelFontSize": 16, "labelColor": "black", "labelPadding": 14, "labelFont": "Liberation Sans", "title": "y", "titleFont": "Liberation Sans", "titleFontSize": 16, "titleFontWeight": "normal", "titleColor": "black", "titlePadding": 14}},
"color": {"field": "s", "type": "nominal", "scale": {"domain": ["f", "m"], "range": ["#E41A1C", "#377EB8"]}, "legend": null}
}
},
{
"data": {"name": "crv"},
"mark": {"type": "line", "strokeWidth": 1.3, "clip": true},
"encoding": {
"x": {"field": "t", "type": "quantitative"},
"y": {"field": "p", "type": "quantitative"},
"color": {"field": "s", "type": "nominal", "scale": {"domain": ["f", "m"], "range": ["#E41A1C", "#377EB8"]}, "legend": null},
"detail": {"field": "id", "type": "nominal"}
}
}
]
}
